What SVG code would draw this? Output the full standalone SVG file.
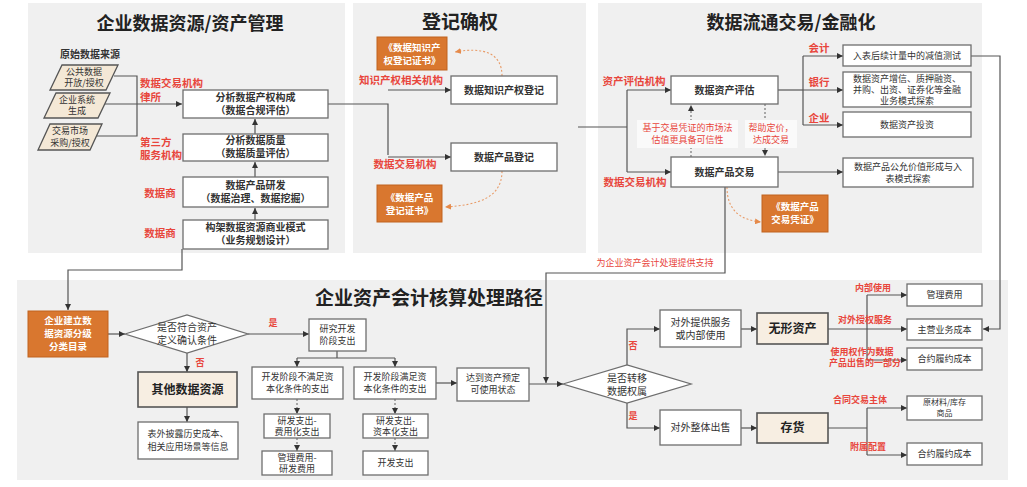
<svg xmlns="http://www.w3.org/2000/svg" width="1027" height="487" viewBox="0 0 1027 487">
<style>
.panel{fill:#f0f0f0}
.box{fill:#fff;stroke:#6e6e6e;stroke-width:1.3}
.beige{fill:#f7eee2;stroke:#555;stroke-width:1.6}
.para{fill:#f4e8d6;stroke:#555;stroke-width:1.3}
.orange{fill:#d9772f;stroke:#c0631f;stroke-width:1}
.note{fill:#fafafa}
text{font-family:"Noto Sans CJK SC","Noto Sans",sans-serif;text-anchor:middle;fill:#333;font-size:9px}
.b{font-weight:bold}
.m{font-size:10px}
.big{font-size:12px;font-weight:bold;fill:#222}
.title{font-size:19px;font-weight:bold;fill:#222}
.red{fill:#e8463c;font-weight:bold;font-size:10.5px}
.rs{fill:#e8463c;font-weight:bold;font-size:9px}
.rn{fill:#e8463c;font-size:9px}
.w{fill:#fff;font-weight:bold;font-size:9.5px}
.st{text-anchor:start}
.sm{font-size:8px}
.ln{fill:none;stroke:#555;stroke-width:1.2}
.dot{fill:none;stroke:#777;stroke-width:1.2;stroke-dasharray:2 2}
.oc{fill:none;stroke:#e89a66;stroke-width:1.1;stroke-dasharray:2 2}
</style>
<defs>
<marker id="a" viewBox="0 0 10 10" refX="10" refY="5" markerWidth="6" markerHeight="6" markerUnits="userSpaceOnUse" orient="auto"><path d="M0,0L10,5L0,10z" fill="#333"/></marker>
<marker id="ao" viewBox="0 0 10 10" refX="10" refY="5" markerWidth="6" markerHeight="6" markerUnits="userSpaceOnUse" orient="auto"><path d="M0,0L10,5L0,10z" fill="#e58a4a"/></marker>
</defs>
<rect width="1027" height="487" fill="#fff"/>
<g id="panels">
<rect class="panel" x="28" y="3" width="317" height="250"/>
<rect class="panel" x="353" y="3" width="233" height="250"/>
<rect class="panel" x="598" y="3" width="384" height="250"/>
<rect class="panel" x="17" y="280" width="991" height="200"/>
</g>
<g id="titles">
<text class="title" x="190" y="30" style="font-size:18px">企业数据资源/资产管理</text>
<text class="title" x="460" y="29">登记确权</text>
<text class="title" x="791" y="29" style="font-size:18px">数据流通交易/金融化</text>
<text class="title" x="429" y="305">企业资产会计核算处理路径</text>
</g>
<g id="connectors">
<path class="ln" d="M114,76H137V136H97"/>
<path class="ln" d="M105,104H182" marker-end="url(#a)"/>
<path class="ln" d="M255,134V119" marker-end="url(#a)"/>
<path class="ln" d="M255,177V162" marker-end="url(#a)"/>
<path class="ln" d="M255,220V208" marker-end="url(#a)"/>
<path class="ln" d="M328,104H388V155"/>
<path class="ln" d="M388,90H451" marker-end="url(#a)"/>
<path class="ln" d="M388,157H451" marker-end="url(#a)"/>
<path class="oc" d="M502,76C502,52 482,47 455,52" marker-end="url(#ao)"/>
<path class="oc" d="M502,171C502,198 478,205 445,207" marker-end="url(#ao)"/>
<path class="ln" d="M578,127H627"/>
<path class="ln" d="M627,90V172"/>
<path class="ln" d="M627,90H671" marker-end="url(#a)"/>
<path class="ln" d="M627,172H671" marker-end="url(#a)"/>
<path class="dot" d="M691,157V105" marker-end="url(#a)"/>
<path class="dot" d="M765,104V156" marker-end="url(#a)"/>
<path class="ln" d="M778,90H803"/>
<path class="ln" d="M803,56V125"/>
<path class="ln" d="M803,56H843" marker-end="url(#a)"/>
<path class="ln" d="M803,90H843" marker-end="url(#a)"/>
<path class="ln" d="M803,125H843" marker-end="url(#a)"/>
<path class="ln" d="M778,172H843" marker-end="url(#a)"/>
<path class="oc" d="M727,187C727,210 740,220 761,222" marker-end="url(#ao)"/>
<path class="ln" d="M971,56H1000V329H983" marker-end="url(#a)"/>
<path class="ln" d="M725,187V273H546V383" marker-end="url(#a)"/>
<path class="ln" d="M182,249V270H68V310" marker-end="url(#a)"/>
<path class="ln" d="M108,334H125" marker-end="url(#a)"/>
<path class="ln" d="M187,353V372" marker-end="url(#a)"/>
<path class="ln" d="M187,407V422" marker-end="url(#a)"/>
<path class="ln" d="M248,334H309" marker-end="url(#a)"/>
<path class="ln" d="M337,351V358M297,358H395"/>
<path class="ln" d="M297,358V367" marker-end="url(#a)"/>
<path class="ln" d="M395,358V367" marker-end="url(#a)"/>
<path class="dot" d="M297,399V414" marker-end="url(#a)"/>
<path class="dot" d="M297,438V451" marker-end="url(#a)"/>
<path class="dot" d="M395,399V414" marker-end="url(#a)"/>
<path class="dot" d="M395,438V451" marker-end="url(#a)"/>
<path class="ln" d="M436,383H457" marker-end="url(#a)"/>
<path class="ln" d="M529,384H563" marker-end="url(#a)"/>
<path class="ln" d="M627,365V329H660" marker-end="url(#a)"/>
<path class="ln" d="M627,403V428H660" marker-end="url(#a)"/>
<path class="ln" d="M741,329H757" marker-end="url(#a)"/>
<path class="ln" d="M741,428H757" marker-end="url(#a)"/>
<path class="ln" d="M828,329H907" marker-end="url(#a)"/>
<path class="ln" d="M867,295V360"/>
<path class="ln" d="M867,295H907" marker-end="url(#a)"/>
<path class="ln" d="M867,360H907" marker-end="url(#a)"/>
<path class="ln" d="M828,428H867"/>
<path class="ln" d="M867,408V455"/>
<path class="ln" d="M867,408H907" marker-end="url(#a)"/>
<path class="ln" d="M867,455H907" marker-end="url(#a)"/>
</g>
<g id="labels">
<text class="b m" x="90" y="58">原始数据来源</text>
<text class="red st" x="140" y="87">数据交易机构</text>
<text class="red st" x="140" y="101">律所</text>
<text class="red st" x="140" y="146">第三方</text>
<text class="red st" x="140" y="159">服务机构</text>
<text class="red" x="160" y="197">数据商</text>
<text class="red" x="160" y="237">数据商</text>
<text class="red" x="401" y="84">知识产权相关机构</text>
<text class="red" x="405" y="168">数据交易机构</text>
<text class="red" x="634" y="85">资产评估机构</text>
<text class="red" x="635" y="186">数据交易机构</text>
<text class="red" x="819" y="52">会计</text>
<text class="red" x="819" y="86">银行</text>
<text class="red" x="819" y="122">企业</text>
<text class="rn" x="655" y="266">为企业资产会计处理提供支持</text>
<text class="rs" x="200" y="366">否</text>
<text class="rs" x="273" y="326">是</text>
<text class="rs" x="633" y="349">否</text>
<text class="rs" x="633" y="419">是</text>
<text class="rs" x="873" y="291">内部使用</text>
<text class="rs" x="865" y="323">对外授权服务</text>
<text class="rs" x="862" y="355">使用权作为数据</text>
<text class="rs" x="865" y="366">产品出售的一部分</text>
<text class="rs" x="860" y="403">合同交易主体</text>
<text class="rs" x="868" y="450">附属配置</text>
</g>
<g id="src1"><polygon class="para" points="62,65 118,65 106,90 50,90"/><text x="84" y="75">公共数据</text><text x="84" y="86">开放/授权</text></g>
<g id="src2"><polygon class="para" points="56,93 110,93 98,118 44,118"/><text x="77" y="103">企业系统</text><text x="77" y="114">生成</text></g>
<g id="src3"><polygon class="para" points="50,124 102,124 90,150 38,150"/><text x="70" y="134">交易市场</text><text x="70" y="146">采购/授权</text></g>
<g id="p1b1"><rect class="box" x="183" y="90" width="145" height="28"/><text class="b m" x="255.5" y="101">分析数据产权构成</text><text class="b m" x="255.5" y="114">（数据合规评估）</text></g>
<g id="p1b2"><rect class="box" x="183" y="134" width="145" height="27"/><text class="b m" x="255.5" y="144">分析数据质量</text><text class="b m" x="255.5" y="157">（数据质量评估）</text></g>
<g id="p1b3"><rect class="box" x="183" y="177" width="145" height="30"/><text class="b m" x="255.5" y="189">数据产品研发</text><text class="b m" x="255.5" y="202">（数据治理、数据挖掘）</text></g>
<g id="p1b4"><rect class="box" x="183" y="220" width="145" height="29"/><text class="b m" x="255.5" y="231">构架数据资源商业模式</text><text class="b m" x="255.5" y="244">（业务规划设计）</text></g>
<g id="cert1"><rect class="orange" x="377" y="37" width="70" height="33"/><text class="w" x="412" y="51">《数据知识产</text><text class="w" x="412" y="64">权登记证书》</text></g>
<g id="cert2"><rect class="orange" x="377" y="185" width="65" height="37"/><text class="w" x="409.5" y="201">《数据产品</text><text class="w" x="409.5" y="214">登记证书》</text></g>
<g id="ipreg"><rect class="box" x="451" y="76" width="106" height="28"/><text class="b m" x="504" y="94">数据知识产权登记</text></g>
<g id="prodreg"><rect class="box" x="451" y="143" width="106" height="28"/><text class="b m" x="504" y="161">数据产品登记</text></g>
<g id="assess"><rect class="box" x="671" y="76" width="107" height="28"/><text class="b m" x="724.5" y="94">数据资产评估</text></g>
<g id="trade"><rect class="box" x="671" y="157" width="107" height="30"/><text class="b m" x="724.5" y="176">数据产品交易</text></g>
<g id="note1"><rect class="note" x="637" y="120" width="101" height="28"/><text class="rn" x="687.5" y="131">基于交易凭证的市场法</text><text class="rn" x="687.5" y="143">估值更具备可信性</text></g>
<g id="note2"><rect class="note" x="745" y="120" width="52" height="28"/><text class="rn" x="771" y="131">帮助定价，</text><text class="rn" x="771" y="143">达成交易</text></g>
<g id="cert3"><rect class="orange" x="762" y="195" width="66" height="37"/><text class="w" x="795" y="210">《数据产品</text><text class="w" x="795" y="223">交易凭证》</text></g>
<g id="fa"><rect class="box" x="843" y="45" width="128" height="21"/><text x="907" y="59">入表后续计量中的减值测试</text></g>
<g id="fb"><rect class="box" x="843" y="72" width="128" height="35"/><text x="907" y="82">数据资产增信、质押融资、</text><text x="907" y="93">并购、出资、证券化等金融</text><text x="907" y="104">业务模式探索</text></g>
<g id="fc"><rect class="box" x="843" y="112" width="128" height="25"/><text x="907" y="128">数据资产投资</text></g>
<g id="fd"><rect class="box" x="843" y="158" width="130" height="29"/><text x="908" y="170">数据产品公允价值形成与入</text><text x="908" y="182">表模式探索</text></g>
<g id="catalog"><rect class="orange" x="28" y="311" width="80" height="46"/><text class="w" x="68" y="324">企业建立数</text><text class="w" x="68" y="337">据资源分级</text><text class="w" x="68" y="350">分类目录</text></g>
<g id="dec1"><polygon class="box" points="125,334 187,315 248,334 187,353"/><text class="m" x="187" y="331">是否符合资产</text><text class="m" x="187" y="344">定义确认条件</text></g>
<g id="other"><rect class="beige" x="138" y="372" width="99" height="35"/><text class="big" x="187.5" y="394">其他数据资源</text></g>
<g id="disclose"><rect class="box" x="138" y="422" width="100" height="37"/><text x="188" y="437">表外披露历史成本、</text><text x="188" y="450">相关应用场景等信息</text></g>
<g id="rd"><rect class="box" x="309" y="319" width="57" height="32"/><text x="337.5" y="332">研究开发</text><text x="337.5" y="344">阶段支出</text></g>
<g id="devA"><rect class="box" x="252" y="367" width="91" height="32"/><text x="297.5" y="380">开发阶段不满足资</text><text x="297.5" y="392">本化条件的支出</text></g>
<g id="devB"><rect class="box" x="354" y="367" width="82" height="32"/><text x="395" y="380">开发阶段满足资</text><text x="395" y="392">本化条件的支出</text></g>
<g id="a1"><rect class="box" x="264" y="414" width="66" height="24"/><text x="297" y="424">研发支出-</text><text x="297" y="435">费用化支出</text></g>
<g id="a2"><rect class="box" x="262" y="451" width="70" height="24"/><text x="297" y="461">管理费用-</text><text x="297" y="472">研发费用</text></g>
<g id="b1"><rect class="box" x="363" y="414" width="65" height="24"/><text x="395.5" y="424">研发支出-</text><text x="395.5" y="435">资本化支出</text></g>
<g id="b2"><rect class="box" x="363" y="451" width="65" height="24"/><text x="395.5" y="466">开发支出</text></g>
<g id="ready"><rect class="box" x="457" y="368" width="72" height="33"/><text x="493" y="381">达到资产预定</text><text x="493" y="393">可使用状态</text></g>
<g id="dec2"><polygon class="box" points="563,384 627,365 691,384 627,403"/><text class="m" x="627" y="382">是否转移</text><text class="m" x="627" y="395">数据权属</text></g>
<g id="service"><rect class="box" x="660" y="310" width="81" height="37"/><text class="m" x="700.5" y="326">对外提供服务</text><text class="m" x="700.5" y="339">或内部使用</text></g>
<g id="sell"><rect class="box" x="660" y="410" width="81" height="35"/><text class="m" x="700.5" y="431">对外整体出售</text></g>
<g id="intangible"><rect class="beige" x="757" y="313" width="71" height="31"/><text class="big" x="792.5" y="333">无形资产</text></g>
<g id="inventory"><rect class="beige" x="757" y="413" width="71" height="30"/><text class="big" x="792.5" y="432">存货</text></g>
<g id="r1"><rect class="box" x="907" y="284" width="75" height="22"/><text x="944.5" y="298">管理费用</text></g>
<g id="r2"><rect class="box" x="907" y="319" width="75" height="21"/><text x="944.5" y="333">主营业务成本</text></g>
<g id="r3"><rect class="box" x="907" y="348" width="75" height="22"/><text x="944.5" y="362">合约履约成本</text></g>
<g id="r4"><rect class="box" x="907" y="396" width="75" height="24"/><text class="sm" x="944.5" y="405">原材料/库存</text><text class="sm" x="944.5" y="416">商品</text></g>
<g id="r5"><rect class="box" x="907" y="443" width="75" height="22"/><text x="944.5" y="457">合约履约成本</text></g>
</svg>
